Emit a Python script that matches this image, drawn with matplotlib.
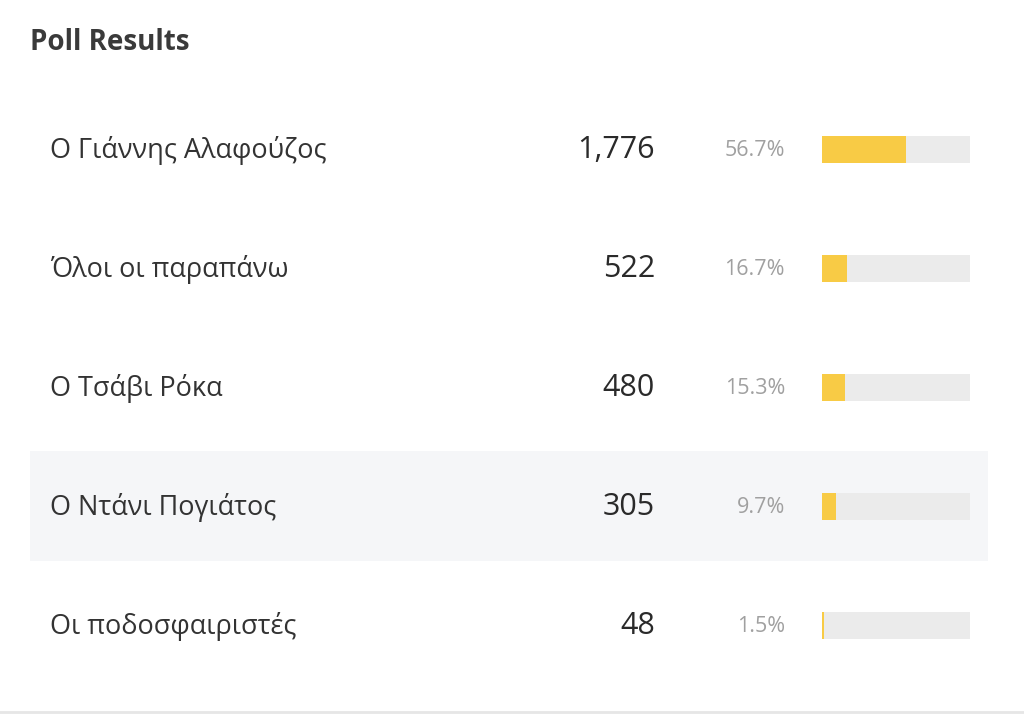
import matplotlib.pyplot as plt
import numpy as np

plt.rcParams['font.family'] = ['Open Sans', 'Noto Sans', 'DejaVu Sans']

options = ['Ο Γιάννης Αλαφούζος', 'Όλοι οι παραπάνω', 'Ο Τσάβι Ρόκα',
           'Ο Ντάνι Πογιάτος', 'Οι ποδοσφαιριστές']
votes = [1776, 522, 480, 305, 48]
percents = [56.7, 16.7, 15.3, 9.7, 1.5]
highlight_row = 3

W, H = 1024, 718
fig = plt.figure(figsize=(W / 100, H / 100), dpi=100)
fig.patch.set_facecolor('white')

# row i sits at pixel 149 + 119*i
row0, step = 149, 119
ylim = ((H - row0) / step, -row0 / step)

ax = fig.add_axes([0, 0, 1, 1])
ax.set_xlim(0, W)
ax.set_ylim(*ylim)
ax.axis('off')

bx = fig.add_axes([822 / W, 0, 148 / W, 1])
bx.set_xlim(0, 100)
bx.set_ylim(*ylim)
bx.axis('off')

y = np.arange(len(options))

# highlighted row background
ax.barh(highlight_row, 958, left=30, height=110 / step, color='#f5f6f8', zorder=0)
# bottom divider
ax.axhline(ylim[0] - 6 / step, color='#e6e6e6', lw=2)

bx.barh(y, 100, height=27 / step, color='#ebebeb')
bx.barh(y, percents, height=27 / step, color='#f8cb45')

fig.text(30 / W, 1 - 42 / H, 'Poll Results', fontsize=20, fontweight='bold',
         color='#3a3a3a', va='center', ha='left')

for i, (name, v, p) in enumerate(zip(options, votes, percents)):
    ax.text(50, i + 0.01, name, fontsize=19.5, color='#333333', va='center', ha='left')
    ax.text(655, i + 0.01, f'{v:,}', fontsize=22, fontweight='medium', color='#2a2a2a',
            va='center', ha='right')
    ax.text(785, i + 0.01, f'{p}%', fontsize=15.5, color='#a0a0a0', va='center', ha='right')

fig.savefig('out.png', dpi=100)
